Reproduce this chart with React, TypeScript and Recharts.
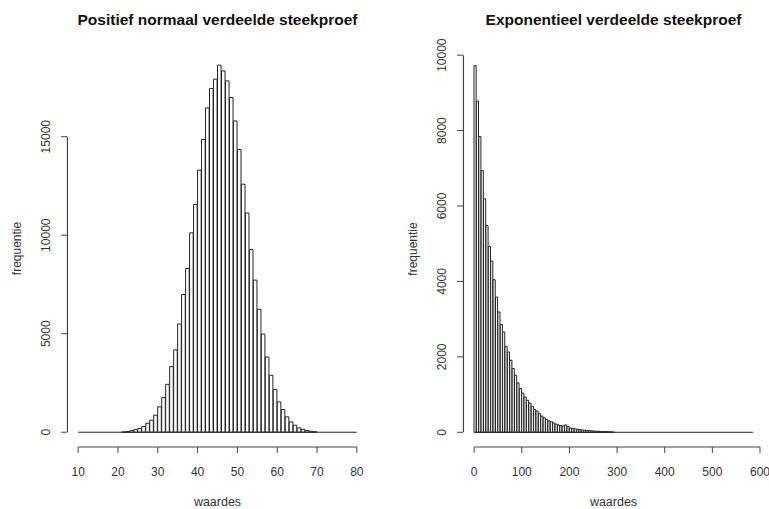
import React from 'react';
import { BarChart, Bar, XAxis, YAxis, ReferenceLine } from 'recharts';

// linker histogram: bins van breedte 1 (10..80)
const normaalBins = [
  10, 11, 12, 13, 14, 15, 16, 17, 18, 19,
  20, 21, 22, 23, 24, 25, 26, 27, 28, 29,
  30, 31, 32, 33, 34, 35, 36, 37, 38, 39,
  40, 41, 42, 43, 44, 45, 46, 47, 48, 49,
  50, 51, 52, 53, 54, 55, 56, 57, 58, 59,
  60, 61, 62, 63, 64, 65, 66, 67, 68, 69,
  70, 71, 72, 73, 74, 75, 76, 77, 78, 79,
];
const normaalCounts = [
  0, 0, 0, 0, 0, 0, 0, 0, 0, 0,
  0, 12, 35, 80, 135, 185, 290, 455, 610, 865,
  1290, 1760, 2430, 3330, 4180, 5490, 6990, 8310, 10120, 11560,
  13300, 14860, 16460, 17450, 17920, 18630, 18340, 17830, 16990, 15800,
  14350, 12590, 11130, 9270, 7720, 6240, 4980, 3820, 2890, 2170,
  1540, 1150, 780, 525, 355, 220, 150, 90, 50, 25,
  0, 0, 0, 0, 0, 0, 0, 0, 0, 0,
];
const normaalXTicks = [10, 20, 30, 40, 50, 60, 70, 80];
const normaalYTicks = [0, 5000, 10000, 15000];

// rechter histogram: bins van breedte 5 (0..585)
const expBins = [
  0, 5, 10, 15, 20, 25, 30, 35, 40, 45,
  50, 55, 60, 65, 70, 75, 80, 85, 90, 95,
  100, 105, 110, 115, 120, 125, 130, 135, 140, 145,
  150, 155, 160, 165, 170, 175, 180, 185, 190, 195,
  200, 205, 210, 215, 220, 225, 230, 235, 240, 245,
  250, 255, 260, 265, 270, 275, 280, 285, 290, 295,
  300, 305, 310, 315, 320, 325, 330, 335, 340, 345,
  350, 355, 360, 365, 370, 375, 380, 385, 390, 395,
  400, 405, 410, 415, 420, 425, 430, 435, 440, 445,
  450, 455, 460, 465, 470, 475, 480, 485, 490, 495,
  500, 505, 510, 515, 520, 525, 530, 535, 540, 545,
  550, 555, 560, 565, 570, 575, 580,
];
const expCounts = [
  9720, 8780, 7840, 6940, 6190, 5480, 4930, 4540, 4045, 3585,
  3190, 2860, 2660, 2280, 2130, 1910, 1690, 1510, 1310, 1160,
  1040, 935, 850, 775, 690, 600, 565, 495, 430, 385,
  340, 305, 280, 250, 220, 195, 175, 170, 195, 150,
  115, 100, 90, 80, 72, 62, 55, 50, 44, 38,
  34, 30, 26, 22, 20, 17, 15, 12, 8, 0,
  0, 0, 0, 0, 0, 0, 0, 0, 0, 0,
  0, 0, 0, 0, 0, 0, 0, 0, 0, 0,
  0, 0, 0, 0, 0, 0, 0, 0, 0, 0,
  0, 0, 0, 0, 0, 0, 0, 0, 0, 0,
  0, 0, 0, 0, 0, 0, 0, 0, 0, 0,
  0, 0, 0, 0, 0, 0, 0,
];
const expXTicks = [0, 100, 200, 300, 400, 500, 600];
const expYTicks = [0, 2000, 4000, 6000, 8000, 10000];

const FONT = '"Liberation Sans", Arial, sans-serif';
const INK = '#333';

const YTick = ({ x, y, payload }: any) => (
  <text
    x={x - 13}
    y={y}
    transform={`rotate(-90 ${x - 13} ${y})`}
    textAnchor="middle"
    dominantBaseline="central"
    fontSize={12}
    fontFamily={FONT}
    fill={INK}
  >
    {payload.value}
  </text>
);

const XTick = ({ x, y, payload }: any) => (
  <text x={x} y={y} textAnchor="middle" dominantBaseline="central" fontSize={12} fontFamily={FONT} fill={INK}>
    {payload.value}
  </text>
);

const YTitle = ({ viewBox, value }: any) => {
  const cx = viewBox.x + viewBox.width - 50;
  const cy = viewBox.y + viewBox.height / 2;
  return (
    <text
      x={cx}
      y={cy}
      transform={`rotate(-90 ${cx} ${cy})`}
      textAnchor="middle"
      dominantBaseline="central"
      fontSize={12}
      fontFamily={FONT}
      fill={INK}
    >
      {value}
    </text>
  );
};

const XTitle = ({ viewBox, value }: any) => (
  <text
    x={viewBox.x + viewBox.width / 2}
    y={viewBox.y + 55}
    textAnchor="middle"
    dominantBaseline="central"
    fontSize={12.5}
    fontFamily={FONT}
    fill={INK}
  >
    {value}
  </text>
);

interface PanelProps {
  title: string;
  bins: number[];
  counts: number[];
  binEnd: number;
  xDomain: [number, number];
  xTicks: number[];
  yDomain: [number, number];
  yTicks: number[];
  width: number;
  yAxisWidth: number;
  top: number;
  right: number;
}

const Panel: React.FC<PanelProps> = ({
  title, bins, counts, binEnd, xDomain, xTicks, yDomain, yTicks, width, yAxisWidth, top, right,
}) => {
  const data = bins.map((b, i) => ({ bin: b, count: counts[i] }));
  const plotWidth = width - yAxisWidth - right;
  // y-as lijn een fractie binnen de rand van het plotgebied
  const yAxisX = xDomain[0] + (xDomain[1] - xDomain[0]) * 0.0015;
  return (
    <div style={{ position: 'relative', width, height: 509 }}>
      <div
        style={{
          position: 'absolute', left: yAxisWidth, width: plotWidth, top: 10,
          textAlign: 'center', font: `bold 15.5px ${FONT}`, lineHeight: '20px', color: '#111',
          whiteSpace: 'nowrap',
        }}
      >
        {title}
      </div>
      <BarChart
        width={width}
        height={509}
        data={data}
        margin={{ top, right, bottom: 0, left: 0 }}
        barCategoryGap={0}
        barGap={0}
      >
        <XAxis
          xAxisId="num"
          dataKey="bin"
          type="number"
          domain={xDomain}
          ticks={xTicks}
          allowDataOverflow
          axisLine={false}
          tickLine={{ stroke: '#444' }}
          tickSize={6}
          tickMargin={19}
          height={62}
          interval={0}
          tick={<XTick />}
          label={{ value: 'waardes', content: (p: any) => <XTitle {...p} value="waardes" /> }}
        />
        <XAxis xAxisId="bins" dataKey="bin" hide height={0} padding={{ left: 11, right: 11 }} />
        <YAxis
          domain={yDomain}
          ticks={yTicks}
          allowDataOverflow
          width={yAxisWidth}
          axisLine={false}
          tickLine={{ stroke: '#444' }}
          tickSize={6}
          interval={0}
          tick={<YTick />}
          label={{ value: 'frequentie', content: (p: any) => <YTitle {...p} value="frequentie" /> }}
        />
        <Bar
          xAxisId="bins"
          dataKey="count"
          fill="#fff"
          stroke="#222"
          strokeWidth={1}
          barSize="99.9%"
          isAnimationActive={false}
        />
        <ReferenceLine
          xAxisId="num"
          segment={[{ x: bins[0], y: 0 }, { x: binEnd, y: 0 }]}
          stroke="#222"
          ifOverflow="visible"
        />
        <ReferenceLine
          xAxisId="num"
          segment={[{ x: xTicks[0], y: yDomain[0] }, { x: xTicks[xTicks.length - 1], y: yDomain[0] }]}
          stroke="#444"
          ifOverflow="visible"
        />
        <ReferenceLine
          xAxisId="num"
          segment={[{ x: yAxisX, y: yTicks[0] }, { x: yAxisX, y: yTicks[yTicks.length - 1] }]}
          stroke="#444"
          strokeWidth={1.2}
          ifOverflow="visible"
        />
      </BarChart>
    </div>
  );
};

export default function App() {
  return (
    <div style={{ position: 'absolute', left: 0, top: 0, width: 769, height: 509, background: '#fff', overflow: 'hidden', display: 'flex' }}>
      <Panel
        title="Positief normaal verdeelde steekproef"
        bins={normaalBins}
        counts={normaalCounts}
        binEnd={80}
        xDomain={[7.2, 82.8]}
        xTicks={normaalXTicks}
        yDomain={[-750, 19400]}
        yTicks={normaalYTicks}
        width={384}
        yAxisWidth={67}
        top={50}
        right={16}
      />
      <Panel
        title="Exponentieel verdeelde steekproef"
        bins={expBins}
        counts={expCounts}
        binEnd={585}
        xDomain={[-23.4, 608.4]}
        xTicks={expXTicks}
        yDomain={[-390, 10110]}
        yTicks={expYTicks}
        width={385}
        yAxisWidth={79}
        top={51}
        right={5}
      />
    </div>
  );
}
